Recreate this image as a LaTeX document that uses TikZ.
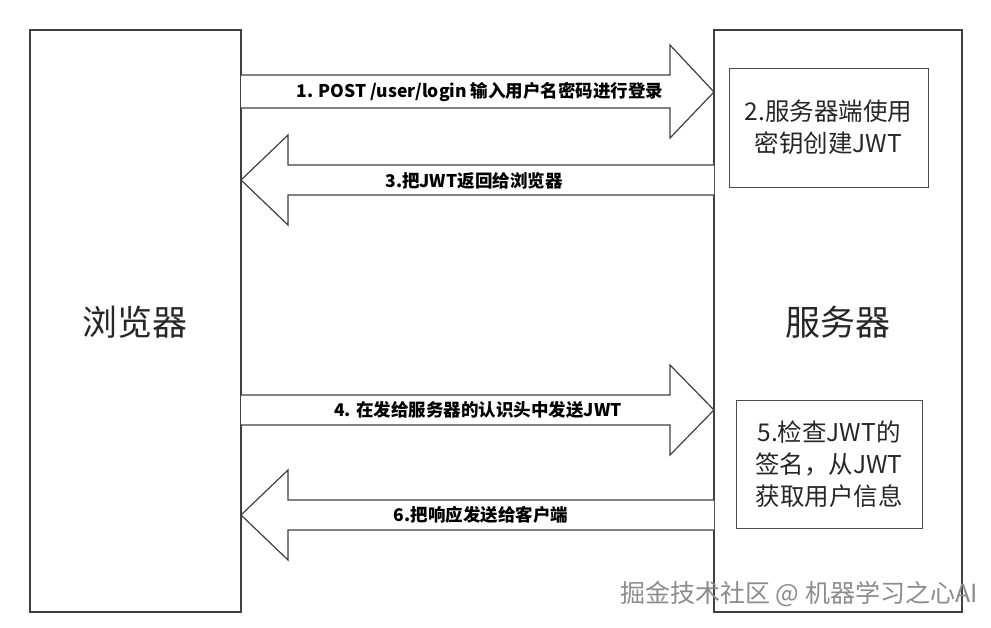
\documentclass[tikz,border=0pt]{standalone}
\usepackage{fontspec}
\setmainfont{Noto Sans CJK SC}
\begin{document}
\begin{tikzpicture}[x=1pt,y=-1pt,
  panel/.style={draw=black!75,line width=1.2pt},
  blk/.style={draw=black!75,line width=1.2pt,fill=white},
  lbl/.style={font=\bfseries\fontsize{17.5}{20}\selectfont},
  boxtxt/.style={font=\fontsize{24.5}{32}\selectfont,align=center,text=black!85},
  big/.style={font=\fontsize{35}{40}\selectfont,text=black!85}]
\useasboundingbox (0,0) rectangle (991,627);
\draw[panel] (30,30) rectangle (241,612);
\draw[panel] (714,30) rectangle (962,612);
\node[big] (browser) at (135,322) {浏览器};
\node[big] (server) at (838,322) {服务器};
% arrow 1
\draw[blk] (241,75)--(670,75)--(670,45)--(714,92)--(670,138)--(670,108)--(241,108);
\node[lbl] (a1) at (480,92) {1. POST /user/login 输入用户名密码进行登录};
% arrow 3
\draw[blk] (714,165)--(288,165)--(288,135)--(241,180)--(288,225)--(288,195)--(714,195);
\node[lbl] (a3) at (474,181) {3.把JWT返回给浏览器};
% arrow 4
\draw[blk] (241,395)--(670,395)--(670,365)--(714,410)--(670,455)--(670,425)--(241,425);
\node[lbl] (a4) at (478,410) {4. 在发给服务器的认识头中发送JWT};
% arrow 6
\draw[blk] (714,500)--(288,500)--(288,470)--(241,515)--(288,560)--(288,530)--(714,530);
\node[lbl] (a6) at (481,515) {6.把响应发送给客户端};
% inner boxes
\draw[draw=black!70,line width=1pt] (729,68) rectangle (928,187);
\node[boxtxt] (b2) at (828.5,127.5) {2.服务器端使用\\密钥创建JWT};
\draw[draw=black!70,line width=1pt] (736,400) rectangle (922,528);
\node[boxtxt] (b5) at (829,464) {5.检查JWT的\\签名，从JWT\\获取用户信息};
\node[font=\fontsize{25}{30}\selectfont,text=black!45] (wm) at (799,594) {掘金技术社区 @ 机器学习之心AI};
\end{tikzpicture}
\end{document}
